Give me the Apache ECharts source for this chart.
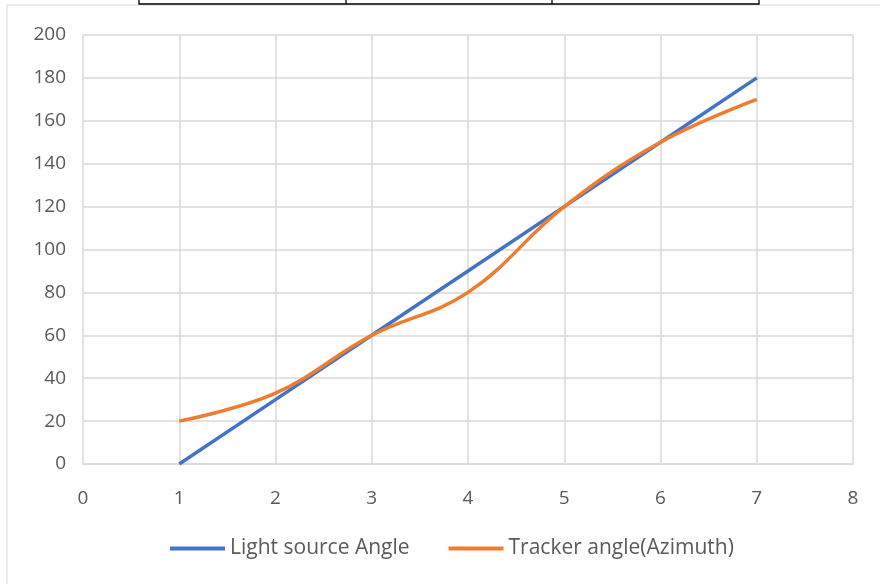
<!DOCTYPE html>
<html><head><meta charset="utf-8">
<script src="https://cdn.jsdelivr.net/npm/echarts@6/dist/echarts.min.js"></script>
<style>html,body{margin:0;padding:0;background:#fff}#c{width:880px;height:584px}</style>
</head><body><div id="c"></div>
<script>
const xValues = [1, 2, 3, 4, 5, 6, 7];
const lightSource = [0, 30, 60, 90, 120, 150, 180];
const tracker = [20, 33, 60, 80, 120, 150, 170];
const seriesNames = ['Light source Angle', 'Tracker angle(Azimuth)'];

const chart = echarts.init(document.getElementById('c'), null, {renderer: 'canvas'});
const font = '"Open Sans", Lato, sans-serif';
chart.setOption({
  animation: false,
  backgroundColor: '#fff',
  textStyle: {fontFamily: font},
  graphic: [
    {type: 'rect', shape: {x: 7, y: 5, width: 900, height: 600}, style: {fill: 'none', stroke: '#d9d9d9', lineWidth: 1}, silent: true},
    {type: 'polyline', shape: {points: [[139, 0], [139, 4], [759, 4], [759, 0]]}, style: {stroke: '#000', lineWidth: 1.3, fill: 'none'}},
    {type: 'line', shape: {x1: 346, y1: 0, x2: 346, y2: 4}, style: {stroke: '#000', lineWidth: 1.3}},
    {type: 'line', shape: {x1: 552, y1: 0, x2: 552, y2: 4}, style: {stroke: '#000', lineWidth: 1.3}}
  ],
  grid: {left: 83, right: 27, top: 35, bottom: 120, containLabel: false},
  legend: {
    bottom: 20, left: 165, itemWidth: 55, itemHeight: 4, itemGap: 39,
    icon: 'rect',
    textStyle: {fontSize: 21, color: '#595959', fontFamily: font},
    data: seriesNames
  },
  xAxis: {
    type: 'value', min: 0, max: 8, interval: 1,
    axisLine: {show: true, lineStyle: {color: '#d9d9d9', width: 1.5}},
    axisTick: {show: false},
    axisLabel: {fontSize: 19, color: '#595959', margin: 25},
    splitLine: {show: true, lineStyle: {color: '#d9d9d9', width: 1.5}}
  },
  yAxis: {
    type: 'value', min: 0, max: 200, interval: 20,
    axisLine: {show: false},
    axisTick: {show: false},
    axisLabel: {fontSize: 19, color: '#595959', margin: 17},
    splitLine: {show: true, lineStyle: {color: '#d9d9d9', width: 1.5}}
  },
  series: [
    {name: seriesNames[0], type: 'line', data: xValues.map((x, i) => [x, lightSource[i]]),
     showSymbol: false, lineStyle: {color: '#4472c4', width: 3.5}, itemStyle: {color: '#4472c4'}},
    {name: seriesNames[1], type: 'line', smooth: 0.4, data: xValues.map((x, i) => [x, tracker[i]]),
     showSymbol: false, lineStyle: {color: '#ed7d31', width: 3.5}, itemStyle: {color: '#ed7d31'}}
  ]
});
</script></body></html>
